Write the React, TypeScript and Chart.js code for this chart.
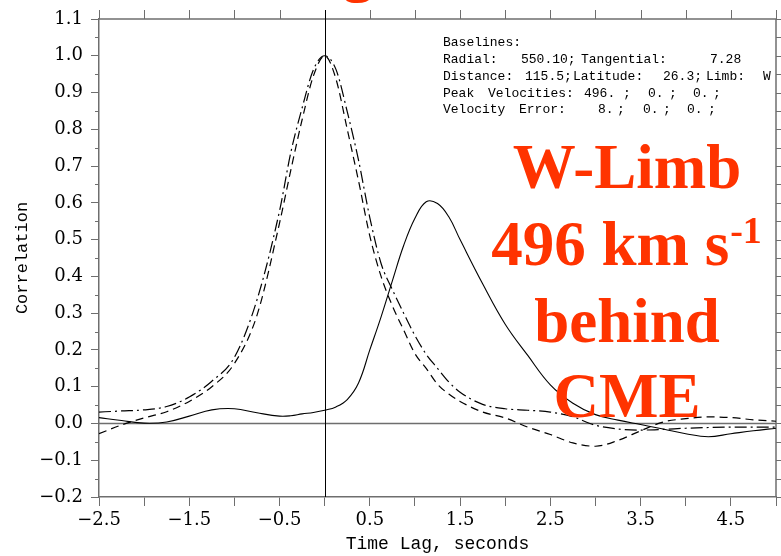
import { useEffect, useRef } from "react";
import { Chart, registerables } from "chart.js";

Chart.register(...registerables);

// ---- data ----
const lagSeconds = [
  -2.5, -2.25, -2.0, -1.75, -1.5, -1.25, -1.0, -0.75, -0.5, -0.375, -0.25, -0.125, 0,
  0.125, 0.25, 0.375, 0.5, 0.625, 0.75, 0.875, 1.0, 1.125, 1.25, 1.375, 1.5, 1.75, 2.0,
  2.25, 2.5, 2.75, 3.0, 3.25, 3.5, 3.75, 4.0, 4.25, 4.5, 4.75, 5.0,
];

const solidCorrelation = [
  0.016, 0.008, 0.001, 0.004, 0.02, 0.037, 0.04, 0.029, 0.02, 0.021, 0.026, 0.03, 0.036,
  0.045, 0.065, 0.11, 0.2, 0.29, 0.388, 0.484, 0.558, 0.603, 0.598, 0.562, 0.5, 0.38, 0.27,
  0.185, 0.105, 0.055, 0.024, 0.009, -0.003, -0.015, -0.028, -0.036, -0.028, -0.02, -0.013,
];

const dashDotCorrelation = [
  0.031, 0.034, 0.037, 0.046, 0.072, 0.115, 0.18, 0.336, 0.578, 0.737, 0.858, 0.962, 1.0,
  0.963, 0.848, 0.716, 0.56, 0.435, 0.364, 0.3, 0.239, 0.188, 0.15, 0.113, 0.085, 0.052, 0.04,
  0.036, 0.031, 0.018, -0.005, -0.015, -0.018, -0.016, -0.013, -0.011, -0.01, -0.01, -0.01,
];

const dashCorrelation = [
  -0.028, -0.004, 0.015, 0.032, 0.06, 0.1, 0.163, 0.294, 0.545, 0.689, 0.826, 0.945, 1.0,
  0.937, 0.8, 0.66, 0.51, 0.4, 0.32, 0.254, 0.19, 0.15, 0.107, 0.08, 0.06, 0.031, 0.015,
  -0.01, -0.03, -0.053, -0.062, -0.046, -0.02, 0.004, 0.013, 0.018, 0.016, 0.01, 0.006,
];

const xRange = [-2.5, 5.0];
const yRange = [-0.2, 1.1];
const xTitle = "Time Lag, seconds";
const yTitle = "Correlation";

const infoTokens: [string, number][][] = [
  [["Baselines:", 443]],
  [["Radial:", 443], ["550.10;", 521], ["Tangential:", 581], ["7.28", 710]],
  [["Distance:", 443], ["115.5;", 525], ["Latitude:", 573], ["26.3;", 663], ["Limb:", 706], ["W", 763]],
  [["Peak", 443], ["Velocities:", 488], ["496.", 584], [";", 623], ["0.", 648], [";", 669], ["0.", 693], [";", 713]],
  [["Velocity", 443], ["Error:", 519], ["8.", 598], [";", 617], ["0.", 643], [";", 663], ["0.", 687], [";", 708]],
];
const infoBaselines = [46, 63, 80, 96.5, 113];

const fmt = (v: number) => {
  const r = Math.round(v * 100) / 100;
  const s = Math.abs(r) < 1e-9 ? "0.0" : r.toFixed(1);
  return s.replace("-", "\u2212");
};

const AXIS = "#6e6e6e";
const RED = "#ff3300";

const framePlugin = {
  id: "frame",
  beforeDatasetsDraw(chart: any) {
    const { ctx, chartArea: a, scales } = chart;
    const x = scales.x;
    const y = scales.y;
    const seg = (x1: number, y1: number, x2: number, y2: number) => {
      ctx.beginPath();
      ctx.moveTo(x1, y1);
      ctx.lineTo(x2, y2);
      ctx.stroke();
    };
    ctx.save();
    ctx.strokeStyle = AXIS;
    ctx.lineWidth = 1.5;
    const y0 = y.getPixelForValue(0);
    seg(a.left, y0, a.right, y0);
    seg(a.left, a.top, a.right, a.top);
    seg(a.right, a.top, a.right, a.bottom);
    ctx.lineWidth = 1;
    for (const t of x.ticks) {
      const px = Math.round(x.getPixelForValue(t.value)) + 0.5;
      seg(px, a.top, px, a.top - 9);
    }
    const yt = y.ticks.map((t: any) => t.value);
    for (let i = 0; i < yt.length; i++) {
      const py = Math.round(y.getPixelForValue(yt[i])) + 0.5;
      seg(a.right, py, a.right + 5, py);
      if (i < yt.length - 1) {
        const mid = (yt[i] + yt[i + 1]) / 2;
        const pm = Math.round(y.getPixelForValue(mid)) + 0.5;
        seg(a.left - 4, pm, a.left, pm);
        seg(a.right, pm, a.right + 5, pm);
      }
    }
    ctx.strokeStyle = "#000";
    ctx.lineWidth = 1;
    const x0 = Math.round(x.getPixelForValue(0)) + 0.5;
    seg(x0, a.top - 9, x0, a.bottom);
    ctx.restore();
  },
  afterDraw(chart: any) {
    const { ctx } = chart;
    ctx.save();
    ctx.fillStyle = "#000";
    ctx.font = "13px 'Liberation Mono'";
    ctx.textAlign = "left";
    ctx.textBaseline = "alphabetic";
    infoTokens.forEach((line, i) => {
      for (const [txt, px] of line) ctx.fillText(txt, px, infoBaselines[i]);
    });

    ctx.fillStyle = RED;
    const big = "bold 63px 'Liberation Serif'";
    const small = "bold 38px 'Liberation Serif'";
    ctx.font = big;
    ctx.textAlign = "center";
    ctx.fillText("g", 358, -11);
    ctx.fillText("W-Limb", 627, 188);
    const main = "496 km s";
    const sup = "-1";
    const wMain = ctx.measureText(main).width;
    ctx.font = small;
    const wSup = ctx.measureText(sup).width;
    const start = 626 - (wMain + wSup) / 2;
    ctx.textAlign = "left";
    ctx.font = big;
    ctx.fillText(main, start, 265);
    ctx.font = small;
    ctx.fillText(sup, start + wMain + 1, 243);
    ctx.font = big;
    ctx.textAlign = "center";
    ctx.fillText("behind", 627, 342);
    ctx.fillText("CME", 627, 417);
    ctx.restore();
  },
};

export default function App() {
  const ref = useRef<HTMLCanvasElement>(null);
  useEffect(() => {
    document.body.style.margin = "0";
    const pts = (vals: number[]) => lagSeconds.map((l, i) => ({ x: l, y: vals[i] }));
    const common = {
      pointRadius: 0,
      borderColor: "#000",
      fill: false,
      cubicInterpolationMode: "monotone" as const,
    };
    const chart = new Chart(ref.current!, {
      type: "line",
      data: {
        datasets: [
          {
            ...common,
            label: "solid",
            data: pts(solidCorrelation),
            borderWidth: 1.1,
            cubicInterpolationMode: "default" as const,
            tension: 0.4,
          },
          { ...common, label: "dash-dot", data: pts(dashDotCorrelation), borderWidth: 1.2, borderDash: [12, 4, 2, 4] },
          { ...common, label: "dash", data: pts(dashCorrelation), borderWidth: 1.2, borderDash: [8, 5] },
        ],
      },
      options: {
        responsive: false,
        animation: false,
        events: [],
        layout: { padding: { top: 19, right: 5, left: 0, bottom: 0 } },
        plugins: { legend: { display: false }, tooltip: { enabled: false } },
        scales: {
          x: {
            type: "linear",
            position: "bottom",
            min: xRange[0],
            max: xRange[1],
            afterFit: (s: any) => {
              s.height = 59;
            },
            ticks: {
              stepSize: 0.5,
              autoSkip: false,
              maxRotation: 0,
              padding: 4,
              color: "#000",
              font: { family: "'DejaVu Serif'", size: 18 },
              callback: (v: any) => {
                const k = Math.round((Number(v) - xRange[0]) * 2);
                return k % 2 === 0 ? fmt(Number(v)) : "";
              },
            },
            grid: { drawOnChartArea: false, drawTicks: true, tickLength: 9, color: AXIS, lineWidth: 1 },
            border: { display: true, color: AXIS, width: 1.5 },
            title: {
              display: true,
              text: xTitle,
              color: "#000",
              font: { family: "'Liberation Mono'", size: 18 },
              padding: { top: 0, bottom: 1 },
            },
          },
          y: {
            type: "linear",
            min: yRange[0],
            max: yRange[1],
            afterFit: (s: any) => {
              s.width = 99;
            },
            ticks: {
              stepSize: 0.1,
              autoSkip: false,
              padding: 8,
              color: "#000",
              font: { family: "'DejaVu Serif'", size: 18 },
              callback: (v: any) => fmt(Number(v)),
            },
            grid: { drawOnChartArea: false, drawTicks: true, tickLength: 8, color: AXIS, lineWidth: 1 },
            border: { display: true, color: AXIS, width: 1.5 },
            title: {
              display: true,
              text: yTitle,
              color: "#000",
              font: { family: "'Liberation Mono'", size: 17 },
              padding: { top: 12, bottom: 0 },
            },
          },
        },
      },
      plugins: [framePlugin],
    });
    return () => chart.destroy();
  }, []);
  return (
    <div style={{ width: 781, height: 556, background: "#fff" }}>
      <canvas ref={ref} width={781} height={556} style={{ display: "block" }} />
    </div>
  );
}
